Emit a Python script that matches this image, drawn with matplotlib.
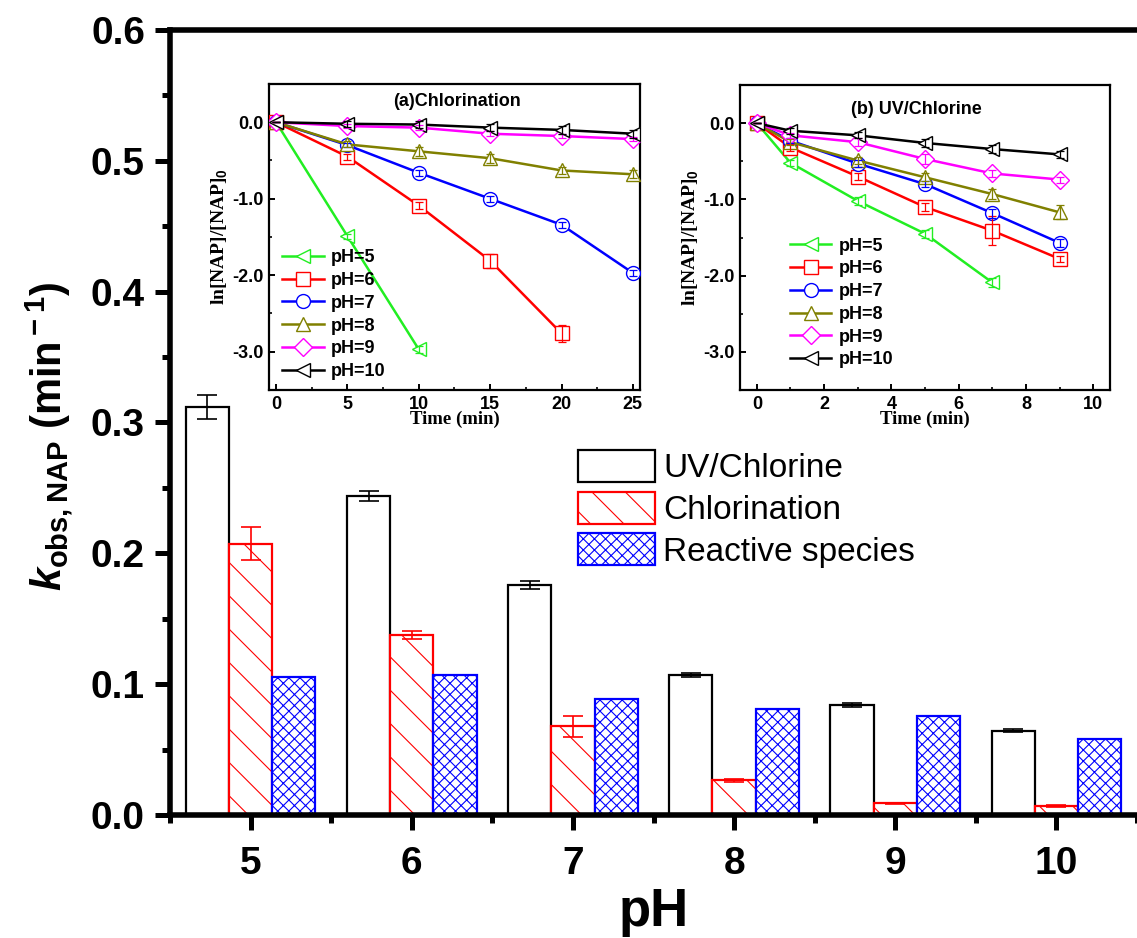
import matplotlib
matplotlib.use("Agg")
import matplotlib.pyplot as plt
import numpy as np
from matplotlib.ticker import MultipleLocator, FixedLocator

plt.rcParams['font.family'] = ['Liberation Sans', 'DejaVu Sans']
plt.rcParams['mathtext.fontset'] = 'custom'
plt.rcParams['mathtext.rm'] = 'Liberation Sans:bold'
plt.rcParams['mathtext.bf'] = 'Liberation Sans:bold'
plt.rcParams['mathtext.it'] = 'Liberation Sans:bold:italic'

# ---------------- main bar chart data ----------------
ph = [5, 6, 7, 8, 9, 10]
uv_chlorine = [0.312, 0.244, 0.1756, 0.1068, 0.0841, 0.0645]
uv_chlorine_err = [0.009, 0.004, 0.003, 0.0015, 0.0012, 0.0012]
chlorination = [0.2072, 0.1376, 0.068, 0.0265, 0.009, 0.0069]
chlorination_err = [0.0126, 0.003, 0.008, 0.001, 0.0005, 0.0005]
reactive = [0.1053, 0.1068, 0.089, 0.081, 0.0759, 0.058]
series_names = ['UV/Chlorine', 'Chlorination', 'Reactive species']

# ---------------- inset (a) Chlorination ----------------
t_a = [0, 5, 10, 15, 20, 25]
a_vals = {
    'pH=5': [0, -1.49, -2.97],
    'pH=6': [0, -0.45, -1.09, -1.81, -2.76],
    'pH=7': [0, -0.30, -0.66, -1.00, -1.34, -1.97],
    'pH=8': [0, -0.29, -0.38, -0.47, -0.63, -0.68],
    'pH=9': [0, -0.05, -0.07, -0.15, -0.18, -0.22],
    'pH=10': [0, -0.02, -0.03, -0.07, -0.10, -0.15],
}
a_err = {
    'pH=5': [0, 0.03, 0.04],
    'pH=6': [0, 0.04, 0.05, 0.09, 0.11],
    'pH=7': [0, 0.03, 0.04, 0.04, 0.04, 0.04],
    'pH=8': [0, 0.04, 0.06, 0.06, 0.05, 0.05],
    'pH=9': [0, 0.03, 0.03, 0.03, 0.03, 0.03],
    'pH=10': [0, 0.04, 0.05, 0.05, 0.05, 0.05],
}

# ---------------- inset (b) UV/Chlorine ----------------
t_b = [0, 1, 3, 5, 7, 9]
b_vals = {
    'pH=5': [0, -0.52, -1.02, -1.45, -2.09],
    'pH=6': [0, -0.32, -0.70, -1.10, -1.41, -1.78],
    'pH=7': [0, -0.23, -0.53, -0.80, -1.18, -1.57],
    'pH=8': [0, -0.25, -0.49, -0.71, -0.93, -1.17],
    'pH=9': [0, -0.16, -0.25, -0.47, -0.66, -0.74],
    'pH=10': [0, -0.10, -0.16, -0.26, -0.34, -0.41],
}
b_err = {
    'pH=5': [0, 0.04, 0.05, 0.05, 0.06],
    'pH=6': [0, 0.04, 0.05, 0.05, 0.19, 0.04],
    'pH=7': [0, 0.03, 0.04, 0.04, 0.06, 0.05],
    'pH=8': [0, 0.04, 0.05, 0.05, 0.06, 0.09],
    'pH=9': [0, 0.03, 0.05, 0.06, 0.05, 0.04],
    'pH=10': [0, 0.04, 0.04, 0.05, 0.05, 0.05],
}

labels = ['pH=5', 'pH=6', 'pH=7', 'pH=8', 'pH=9', 'pH=10']
colors = ['#22ee22', '#ff0000', '#0000ff', '#808000', '#ff00ff', '#000000']
markers = ['<', 's', 'o', '^', 'D', '<']

fig = plt.figure(figsize=(11.37, 9.38), dpi=100)
ax = fig.add_axes([170/1137, 123/938, 1 - 170/1137, (815-30)/938])

x = np.arange(len(ph))
w = 0.268
plt.rcParams['hatch.linewidth'] = 0.8
b1 = ax.bar(x - w, uv_chlorine, w, facecolor='white', edgecolor='black', linewidth=1.6,
            label=series_names[0], zorder=2)
b2 = ax.bar(x, chlorination, w, facecolor='white', edgecolor='red', linewidth=1.6,
            hatch='\\', label=series_names[1], zorder=2)
b3 = ax.bar(x + w, reactive, w, facecolor='white', edgecolor='blue', linewidth=1.6,
            hatch='xxx', label=series_names[2], zorder=2)
ax.errorbar(x - w, uv_chlorine, yerr=uv_chlorine_err, fmt='none', ecolor='black',
            elinewidth=1.2, capsize=7, capthick=1.2, zorder=3)
ax.errorbar(x, chlorination, yerr=chlorination_err, fmt='none', ecolor='red',
            elinewidth=1.2, capsize=7, capthick=1.2, zorder=3)

ax.set_xlim(-0.5, 5.5)
ax.set_ylim(0, 0.6)
ax.set_xticks(x)
ax.set_xticklabels([str(p) for p in ph])
ax.xaxis.set_minor_locator(FixedLocator(np.arange(-0.5, 5.6, 1.0)))
ax.yaxis.set_major_locator(MultipleLocator(0.1))
ax.yaxis.set_minor_locator(MultipleLocator(0.05))
ax.yaxis.set_major_formatter(matplotlib.ticker.FormatStrFormatter('%.1f'))
for s in ['left', 'bottom', 'top']:
    ax.spines[s].set_linewidth(4)
ax.spines['right'].set_visible(False)
ax.tick_params(which='major', direction='out', length=11, width=3.6,
               labelsize=28, pad=7)
ax.tick_params(axis='x', which='major', pad=11)
ax.tick_params(which='minor', direction='out', length=6, width=3.6)
for lab in ax.get_xticklabels() + ax.get_yticklabels():
    lab.set_fontweight('bold')
ax.set_xlabel('pH', fontsize=38, fontweight='bold', labelpad=4)
ax.set_ylabel(r'$k_{\rm obs,NAP}$ (min$^{\rm -1}$)', fontsize=30, fontweight='bold')
ax.yaxis.set_label_coords(-0.098, 0.482)

leg = ax.legend(handles=[b1, b2, b3], loc='upper left',
                bbox_to_anchor=(578/1137, 1 - 450/938), bbox_transform=fig.transFigure,
                frameon=False, fontsize=24, handlelength=2.3, handleheight=1.1,
                labelspacing=0.22, handletextpad=0.25, borderpad=0, borderaxespad=0)


def make_inset(rect, t, vals, errs, xlim, xmajor, xminor, title, title_xy):
    ia = fig.add_axes(rect)
    for lab, col, mk in zip(labels, colors, markers):
        y = vals[lab]
        tt = t[:len(y)]
        ms = 10 if mk != 'D' else 9
        ia.plot(tt, y, color=col, lw=1.8, marker=mk, markersize=ms,
                markerfacecolor='white', markeredgecolor=col, markeredgewidth=1.0,
                label=lab, zorder=3)
        ia.errorbar(tt, y, yerr=errs[lab], fmt='none', ecolor=col, elinewidth=0.9,
                    capsize=3, capthick=0.9, zorder=4)
    ia.set_xlim(*xlim)
    ia.set_ylim(-3.5, 0.5)
    ia.xaxis.set_major_locator(MultipleLocator(xmajor))
    ia.xaxis.set_minor_locator(MultipleLocator(xminor))
    ia.yaxis.set_major_locator(FixedLocator([-3.0, -2.0, -1.0, 0.0]))
    ia.yaxis.set_minor_locator(FixedLocator([-3.5, -2.5, -1.5, -0.5, 0.5]))
    ia.yaxis.set_major_formatter(matplotlib.ticker.FormatStrFormatter('%.1f'))
    for s in ia.spines.values():
        s.set_linewidth(1.6)
    ia.tick_params(which='major', direction='in', length=4, width=1.4,
                   labelsize=13, pad=4)
    ia.tick_params(which='minor', direction='in', length=2.5, width=1.2)
    for lab in ia.get_xticklabels() + ia.get_yticklabels():
        lab.set_fontweight('bold')
    ia.set_xlabel('Time (min)', fontsize=13.5, fontweight='bold',
                  family=['Liberation Serif', 'DejaVu Serif'], labelpad=-1)
    ia.set_ylabel(r'ln[NAP]/[NAP]$_{\mathbf{0}}$', fontsize=14, fontweight='bold',
                  family=['Liberation Serif', 'DejaVu Serif'], labelpad=2)
    ia.text(title_xy[0], title_xy[1], title, transform=ia.transAxes, ha='center',
            va='center', fontsize=13, fontweight='bold')
    return ia


ia = make_inset([269/1137, 548/938, 371/1137, 306/938], t_a, a_vals, a_err,
                (-0.5, 25.5), 5, 2.5, '(a)Chlorination', (0.507, 0.944))
ia.legend(loc='upper left', bbox_to_anchor=(0.035, 0.46), frameon=False,
          prop={'weight': 'bold', 'size': 13}, handlelength=2.3, handletextpad=0.4,
          labelspacing=0.32, borderpad=0, borderaxespad=0)

ib = make_inset([740/1137, 548/938, 370/1137, 305/938], t_b, b_vals, b_err,
                (-0.5, 10.5), 2, 1, '(b) UV/Chlorine', (0.478, 0.921))
ib.legend(loc='upper left', bbox_to_anchor=(0.135, 0.50), frameon=False,
          prop={'weight': 'bold', 'size': 13}, handlelength=2.3, handletextpad=0.4,
          labelspacing=0.32, borderpad=0, borderaxespad=0)

fig.savefig('out.png', dpi=100)
